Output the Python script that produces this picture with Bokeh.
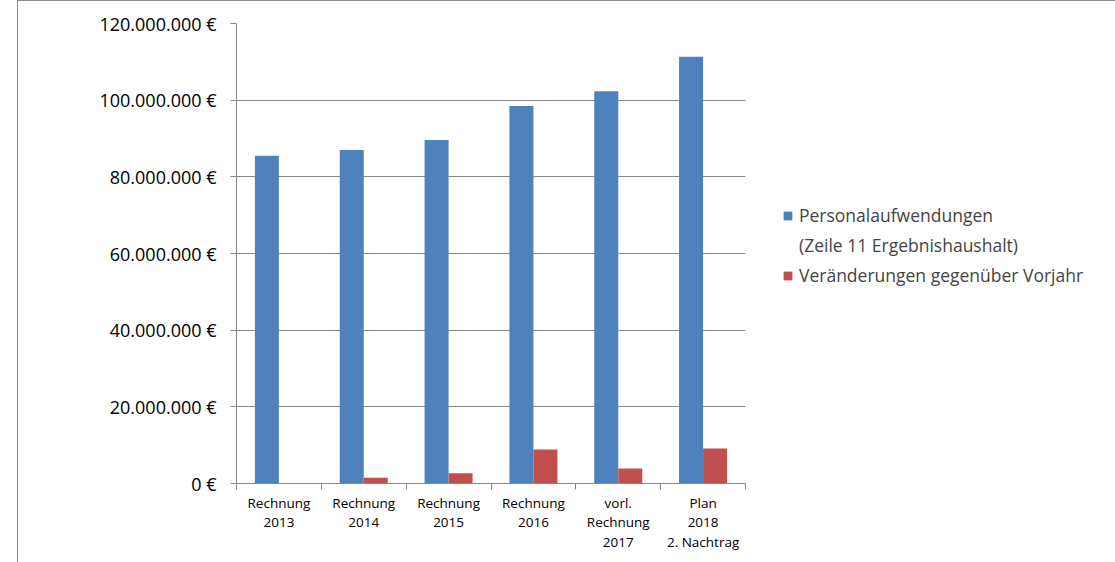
from bokeh.plotting import figure
from bokeh.models import Range1d, FixedTicker, Legend, LegendItem, ColumnDataSource
from bokeh.transform import dodge
from bokeh.embed import file_html
from bokeh.resources import INLINE

categories = ["Rechnung\n2013", "Rechnung\n2014", "Rechnung\n2015", "Rechnung\n2016",
              "vorl.\nRechnung\n2017", "Plan\n2018\n2. Nachtrag"]
personal = [85.5e6, 87.0e6, 89.6e6, 98.5e6, 102.3e6, 111.3e6]
veraenderung = [0.0, 1.5e6, 2.7e6, 8.9e6, 3.9e6, 9.1e6]
y_ticks = [0, 20e6, 40e6, 60e6, 80e6, 100e6, 120e6]
y_tick_labels = ["0 €", "20.000.000 €", "40.000.000 €", "60.000.000 €",
                 "80.000.000 €", "100.000.000 €", "120.000.000 €"]
legend_labels = ["Personalaufwendungen", "(Zeile 11 Ergebnishaushalt)",
                 "Veränderungen gegenüber Vorjahr"]

BLUE = "#4F81BD"
RED = "#C0504D"
GRID = "#868686"
FONT = "Open Sans"

centers = [i + 0.5 for i in range(len(categories))]
src = ColumnDataSource(dict(x=centers, p=personal, v=veraenderung))

p = figure(width=1097, height=562, output_backend="svg", toolbar_location=None,
           x_range=Range1d(0, len(categories)), y_range=Range1d(0, 120e6),
           min_border_left=218, min_border_top=22, min_border_right=0,
           min_border_bottom=79, frame_width=509, frame_height=460)
p.margin = (0, 0, 0, 17)
p.styles = {"border": "1px solid #8c8c8c"}
p.outline_line_color = None
p.background_fill_color = "white"
p.border_fill_color = "white"

bw = 0.283
r1 = p.vbar(x=dodge("x", -bw / 2, range=p.x_range), top="p", width=bw, source=src,
            fill_color=BLUE, line_color=None)
r2 = p.vbar(x=dodge("x", bw / 2, range=p.x_range), top="v", width=bw, source=src,
            fill_color=RED, line_color=None)
# invisible renderer carrying the second line of the first legend entry
r_blank = p.vbar(x=[], top=[], width=bw, fill_alpha=0, line_alpha=0)

# y axis
p.yaxis.ticker = FixedTicker(ticks=y_ticks)
p.yaxis.major_label_overrides = {float(t): l for t, l in zip(y_ticks, y_tick_labels)}
p.yaxis.axis_line_color = GRID
p.yaxis.major_tick_line_color = GRID
p.yaxis.major_tick_out = 6
p.yaxis.major_tick_in = 0
p.yaxis.minor_tick_line_color = None
p.yaxis.major_label_text_font = FONT
p.yaxis.major_label_text_font_size = "18px"
p.yaxis.major_label_text_color = "black"
p.yaxis.major_label_standoff = 14
p.ygrid.grid_line_color = GRID
p.ygrid.grid_line_alpha = 1.0

# x axis
p.xaxis.ticker = FixedTicker(ticks=centers, minor_ticks=list(range(len(categories) + 1)))
p.xaxis.major_label_overrides = {float(c): l for c, l in zip(centers, categories)}
p.xaxis.axis_line_color = GRID
p.xaxis.major_tick_line_color = None
p.xaxis.minor_tick_line_color = GRID
p.xaxis.minor_tick_out = 6
p.xaxis.minor_tick_in = 0
p.xaxis.major_label_text_font = FONT
p.xaxis.major_label_text_font_size = "13.5px"
p.xaxis.major_label_text_line_height = 1.1
p.xaxis.major_label_text_color = "black"
p.xaxis.major_label_standoff = 4
p.xgrid.grid_line_color = None

legend = Legend(items=[LegendItem(label=legend_labels[0], renderers=[r1]),
                       LegendItem(label=legend_labels[1], renderers=[r_blank]),
                       LegendItem(label=legend_labels[2], renderers=[r2])],
                location=(37, 196), padding=0, margin=0, border_line_alpha=0,
                background_fill_alpha=0, glyph_width=11, glyph_height=11,
                label_text_font=FONT, label_text_font_size="17.5px",
                label_height=22, label_standoff=6, spacing=6)
p.add_layout(legend, "right")
p.min_border_right = 370

open("out.html", "w").write(file_html(p, INLINE))
